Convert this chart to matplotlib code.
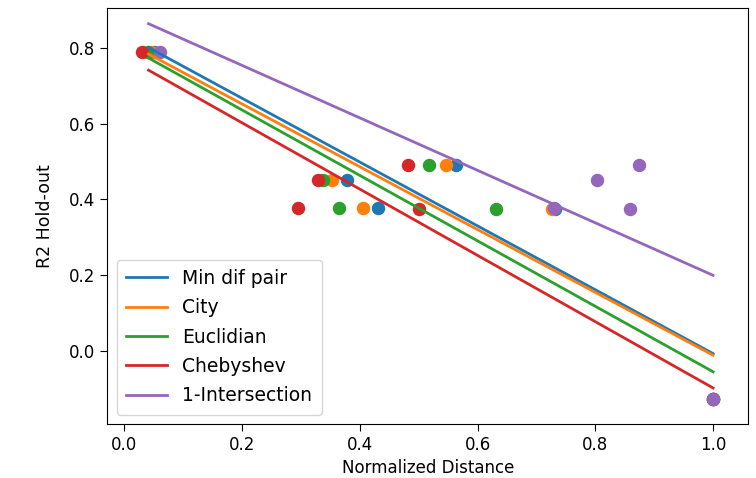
import matplotlib as mpl
mpl.use('Agg')
import matplotlib.pyplot as plt
import numpy as np

## R2 hold-out vs normalized distance, one series per distance measure

labels = ['Min dif pair', 'City', 'Euclidian', 'Chebyshev', '1-Intersection']

r2 = [0.791, 0.491, 0.451, 0.378, 0.374, -0.128]

dist_mindif = [0.050, 0.563, 0.378, 0.430, 0.731, 1.0]
dist_city = [0.045, 0.546, 0.352, 0.406, 0.726, 1.0]
dist_eucl = [0.040, 0.517, 0.337, 0.364, 0.631, 1.0]
dist_cheb = [0.030, 0.481, 0.328, 0.295, 0.501, 1.0]
dist_inter = [0.060, 0.874, 0.803, 0.730, 0.859, 1.0]

dists = [dist_mindif, dist_city, dist_eucl, dist_cheb, dist_inter]

def main():
    fig, ax = plt.subplots(figsize=(7.56, 4.78), dpi=100)
    fig.subplots_adjust(left=0.142, right=0.990, top=0.983, bottom=0.113)

    xfit = np.linspace(0.041, 1.0, 50)
    for i, (d, lab) in enumerate(zip(dists, labels)):
        col = 'C%d' % i
        ax.scatter(d, r2, color=col, s=75)
        m, b = np.polyfit(d, r2, 1)
        ax.plot(xfit, m * xfit + b, color=col, lw=2.0, label=lab)

    ax.set_xlim(-0.029, 1.060)
    ax.set_ylim(-0.194, 0.906)
    ax.set_xticks([0.0, 0.2, 0.4, 0.6, 0.8, 1.0])
    ax.set_yticks([0.0, 0.2, 0.4, 0.6, 0.8])
    ax.set_xlabel('Normalized Distance', fontsize=12)
    ax.set_ylabel('R2 Hold-out', fontsize=12.5, labelpad=11)
    ax.tick_params(labelsize=12, length=5)
    ax.legend(loc='lower left', fontsize=13.5, handlelength=2.2,
              borderaxespad=0.5, labelspacing=0.55, borderpad=0.5)

    plt.savefig('out.png')

if __name__ == "__main__":
    main()
